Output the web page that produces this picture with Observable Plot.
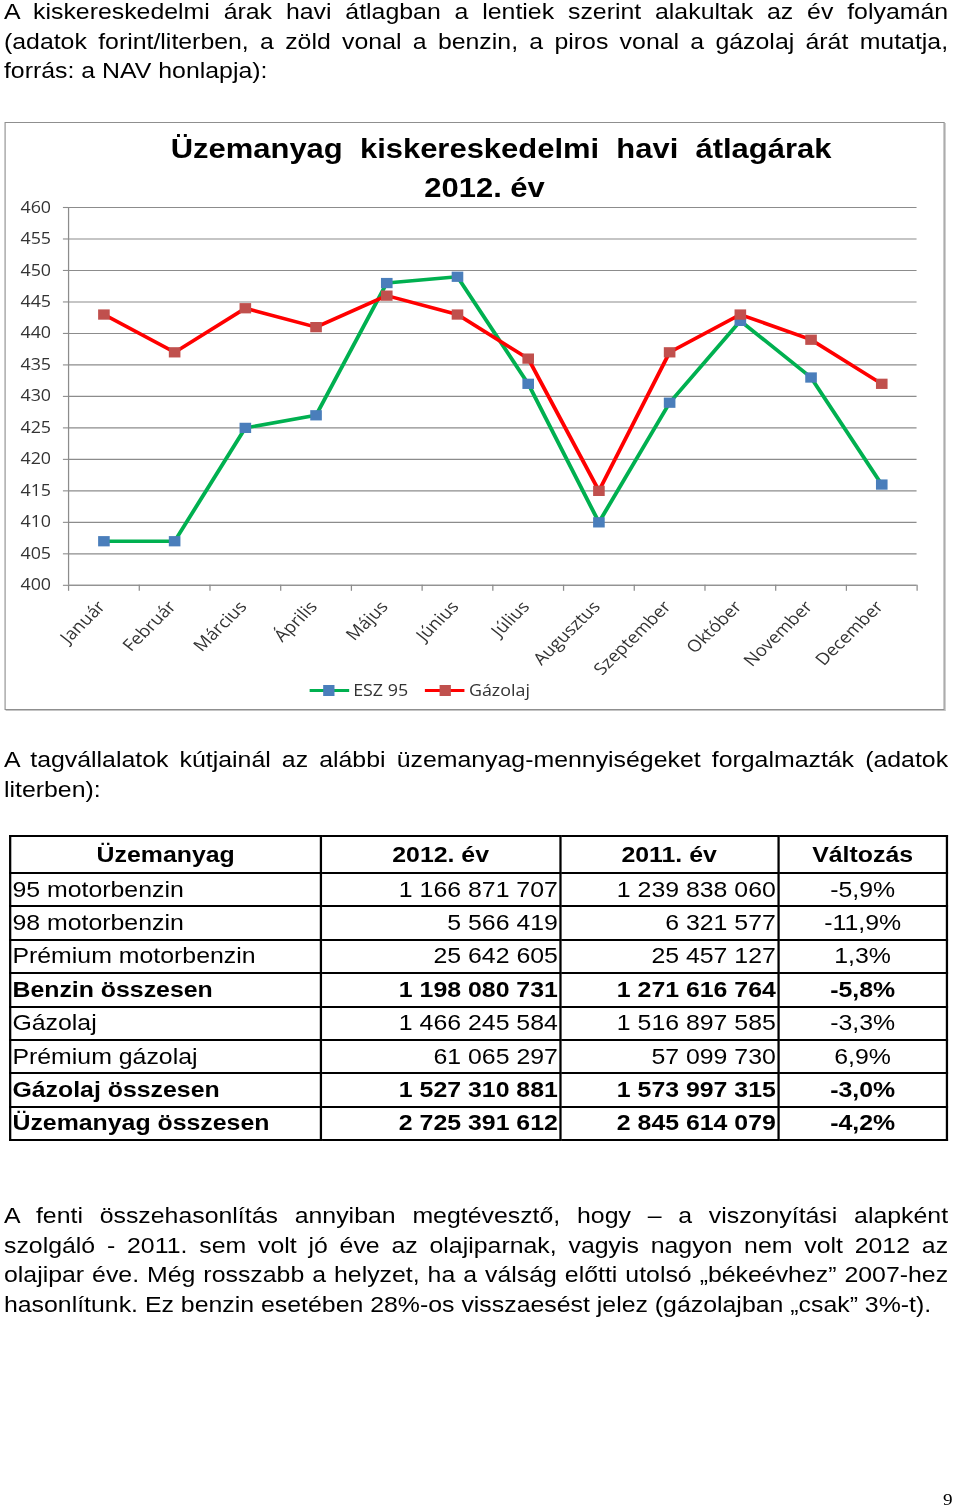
<!DOCTYPE html>
<html lang="hu">
<head>
<meta charset="utf-8">
<script src="https://cdn.jsdelivr.net/npm/d3@7"></script>
<script src="https://cdn.jsdelivr.net/npm/@observablehq/plot@0.6"></script>
<style>
  html, body { margin: 0; padding: 0; background: #fff; }
  body { width: 960px; height: 1512px; overflow: hidden; position: relative; }
  #page { position: absolute; left: 0; top: 0; width: 849.6px; height: 1512px;
          transform: scaleX(1.13); transform-origin: 0 0;
          font-family: "Liberation Sans", Arial, sans-serif; color: #000; }
  .ln { position: absolute; left: 3.5px; width: 835.5px; font-size: 22px; line-height: 29.5px; white-space: normal; }
  .j { text-align: justify; text-align-last: justify; }
  #box { position: absolute; left: 3.5px; top: 122px; width: 832.8px; height: 588px; box-sizing: border-box;
         border: 1px solid #8f8f8f; box-shadow: 1px 1px 0 #c4c4c4; background: #fff; }
  .ttl { position: absolute; left: 0; font-size: 27.4px; font-weight: bold; line-height: 34px; white-space: pre; text-align: center; }
  #chart { position: absolute; left: 0; top: 195px; }
  #legend { position: absolute; top: 679px; left: 0; height: 22px; font-family: "Open Sans", sans-serif; font-size: 15.8px; color: #333; }
  .sw { position: absolute; top: 9.5px; height: 3.5px; width: 35px; }
  .sq { position: absolute; top: 6px; width: 10px; height: 10.5px; }
  .lt { position: absolute; top: 0; line-height: 22px; white-space: nowrap; }
  #tbl { position: absolute; left: 8px; top: 835px; border-collapse: collapse; table-layout: fixed; font-size: 22px; }
  #tbl td { border: 2px solid #000; padding: 0 1px; line-height: 24px; white-space: nowrap; overflow: hidden; }
  #tbl tr.h td { font-weight: bold; text-align: center; }
  #tbl tr.b td { font-weight: bold; }
  #tbl td.n { text-align: right; }
  #tbl td.p { text-align: center; }
  #pg { position: absolute; left: 834.5px; top: 1490px; font-family: "Liberation Serif", serif; font-size: 17px; line-height: 20px; }
</style>
</head>
<body>
<div id="page">
  <div class="ln j" style="top:-3px">A kiskereskedelmi árak havi átlagban a lentiek szerint alakultak az év folyamán</div>
  <div class="ln j" style="top:26.5px">(adatok forint/literben, a zöld vonal a benzin, a piros vonal a gázolaj árát mutatja,</div>
  <div class="ln" style="top:56px">forrás: a NAV honlapja):</div>

  <div id="box"></div>
  <div class="ttl" style="top:131.5px; width:886.8px">Üzemanyag  kiskereskedelmi  havi  átlagárak</div>
  <div class="ttl" style="top:170.5px; width:857.6px">2012. év</div>
  <div id="chart"></div>
  <div id="legend"></div>

  <div class="ln j" style="top:745px">A tagvállalatok kútjainál az alábbi üzemanyag-mennyiségeket forgalmazták (adatok</div>
  <div class="ln" style="top:774.5px">literben):</div>

  <table id="tbl"></table>

  <div class="ln j" style="top:1201px">A fenti összehasonlítás annyiban megtévesztő, hogy – a viszonyítási alapként</div>
  <div class="ln j" style="top:1230.5px">szolgáló - 2011. sem volt jó éve az olajiparnak, vagyis nagyon nem volt 2012 az</div>
  <div class="ln j" style="top:1260px">olajipar éve. Még rosszabb a helyzet, ha a válság előtti utolsó „békeévhez” 2007-hez</div>
  <div class="ln" style="top:1289.5px">hasonlítunk. Ez benzin esetében 28%-os visszaesést jelez (gázolajban „csak” 3%-t).</div>

  <div id="pg">9</div>
</div>
<script>
// ---- chart data ----
const months = ["Január", "Február", "Március", "Április", "Május", "Június",
                "Július", "Augusztus", "Szeptember", "Október", "November", "December"];
const esz95   = [407, 407, 425, 427, 448, 449, 432, 410, 429, 442, 433, 416];
const gazolaj = [443, 437, 444, 441, 446, 443, 436, 415, 437, 443, 439, 432];
const yTicks  = [400, 405, 410, 415, 420, 425, 430, 435, 440, 445, 450, 455, 460];
const seriesNames = ["ESZ 95", "Gázolaj"];

// ---- table data ----
const tableHeader = ["Üzemanyag", "2012. év", "2011. év", "Változás"];
const fuels   = ["95 motorbenzin", "98 motorbenzin", "Prémium motorbenzin", "Benzin összesen",
                 "Gázolaj", "Prémium gázolaj", "Gázolaj összesen", "Üzemanyag összesen"];
const vol2012 = ["1 166 871 707", "5 566 419", "25 642 605", "1 198 080 731",
                 "1 466 245 584", "61 065 297", "1 527 310 881", "2 725 391 612"];
const vol2011 = ["1 239 838 060", "6 321 577", "25 457 127", "1 271 616 764",
                 "1 516 897 585", "57 099 730", "1 573 997 315", "2 845 614 079"];
const change  = ["-5,9%", "-11,9%", "1,3%", "-5,8%", "-3,3%", "6,9%", "-3,0%", "-4,2%"];
const boldRows = ["Benzin összesen", "Gázolaj összesen", "Üzemanyag összesen"];

const GREEN = "#00b050", BLUE = "#4a7ebb", RED = "#ff0000", DARKRED = "#c0504d";
const GRID = "#8c8c8c";
const xPos = (d, i) => i + 0.5;
const xBounds = d3.range(0, months.length + 1);

const chart = Plot.plot({
  width: 850, height: 485,
  marginLeft: 60.2, marginRight: 38.5, marginTop: 12, marginBottom: 95,
  style: {fontFamily: "'Open Sans', sans-serif", fontSize: "15.8px", background: "transparent", color: "#333", overflow: "visible"},
  x: {type: "linear", domain: [0, months.length], axis: null},
  y: {domain: [400, 460], axis: null},
  marks: [
    Plot.gridY(yTicks, {stroke: GRID, strokeOpacity: 1, strokeWidth: 1.1}),
    Plot.axisY(yTicks, {tickSize: 4.5, tickPadding: 11, stroke: GRID, strokeWidth: 1.1, fill: "#333", tickFormat: d => String(d)}),
    Plot.axisX(xBounds, {tickSize: 6, tickPadding: 0, stroke: GRID, strokeWidth: 1.1, tickFormat: () => ""}),
    Plot.ruleX([0], {stroke: GRID, strokeWidth: 1.1}),
    Plot.ruleY([400], {stroke: GRID, strokeWidth: 1.1}),
    Plot.text(months, {x: xPos, frameAnchor: "bottom", text: d => d, rotate: -48, textAnchor: "end",
                       dy: 22, dx: 2, fill: "#333", fontSize: 16.5}),
    Plot.lineY(esz95, {x: xPos, y: d => d, stroke: GREEN, strokeWidth: 3.5}),
    Plot.dot(esz95, {x: xPos, y: d => d, symbol: "square", r: 5.8, fill: BLUE, stroke: null}),
    Plot.lineY(gazolaj, {x: xPos, y: d => d, stroke: RED, strokeWidth: 3.5}),
    Plot.dot(gazolaj, {x: xPos, y: d => d, symbol: "square", r: 5.8, fill: DARKRED, stroke: null})
  ]
});
document.getElementById("chart").appendChild(chart);

// legend
const legend = document.getElementById("legend");
const legendItems = [
  {name: seriesNames[0], line: GREEN, mark: BLUE, x: 273.5},
  {name: seriesNames[1], line: RED, mark: DARKRED, x: 376}
];
for (const it of legendItems) {
  const l = document.createElement("div"); l.className = "sw"; l.style.left = it.x + "px"; l.style.background = it.line; legend.appendChild(l);
  const s = document.createElement("div"); s.className = "sq"; s.style.left = (it.x + 12.5) + "px"; s.style.background = it.mark; legend.appendChild(s);
  const t = document.createElement("div"); t.className = "lt"; t.style.left = (it.x + 39) + "px"; t.textContent = it.name; legend.appendChild(t);
}

// table
const tbl = document.getElementById("tbl");
const colW = [275.2, 211.5, 192.9, 149.6];
const cg = document.createElement("colgroup");
for (const w of colW) { const c = document.createElement("col"); c.style.width = w + "px"; cg.appendChild(c); }
tbl.appendChild(cg);
tbl.style.width = d3.sum(colW) + "px";
const hr = document.createElement("tr"); hr.className = "h"; hr.style.height = "37px";
for (const h of tableHeader) { const td = document.createElement("td"); td.textContent = h; hr.appendChild(td); }
tbl.appendChild(hr);
fuels.forEach((f, i) => {
  const tr = document.createElement("tr");
  tr.style.height = "33.4px";
  if (boldRows.includes(f)) tr.className = "b";
  const cells = [[f, ""], [vol2012[i], "n"], [vol2011[i], "n"], [change[i], "p"]];
  for (const [v, c] of cells) { const td = document.createElement("td"); td.textContent = v; if (c) td.className = c; tr.appendChild(td); }
  tbl.appendChild(tr);
});
</script>
</body>
</html>
